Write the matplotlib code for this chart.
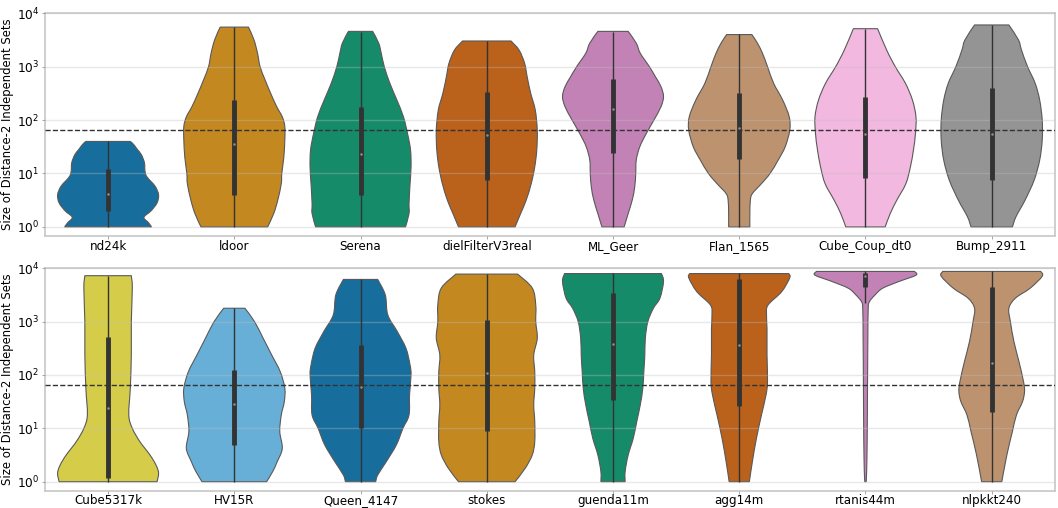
import matplotlib
matplotlib.use("Agg")
import matplotlib.pyplot as plt
from matplotlib.path import Path
from matplotlib.patches import PathPatch
from matplotlib.ticker import LogLocator, NullLocator, LogFormatterSciNotation
import numpy as np
import seaborn as sns

# matrices, two rows of eight
names_top = ["nd24k", "ldoor", "Serena", "dielFilterV3real",
             "ML_Geer", "Flan_1565", "Cube_Coup_dt0", "Bump_2911"]
names_bot = ["Cube5317k", "HV15R", "Queen_4147", "stokes",
             "guenda11m", "agg14m", "rtanis44m", "nlpkkt240"]

# violin outlines: log10(size) and relative half width
logs_top = [
    [0, .08, .18, .3, .45, .6, .75, .85, .95, 1.05, 1.2, 1.35, 1.45, 1.55, 1.6],
    [0, .25, .5, .81, 1.0, 1.3, 1.63, 1.88, 2.06, 2.25, 2.5, 2.75, 3.0, 3.25, 3.5, 3.74],
    [0, .25, .44, .8, 1.125, 1.44, 1.75, 2.06, 2.375, 2.69, 3.0, 3.25, 3.44, 3.66],
    [0, .25, .5, .81, 1.125, 1.44, 1.81, 2.19, 2.5, 2.81, 3.06, 3.31, 3.48],
    [0, .25, .5, .75, 1.0, 1.25, 1.5, 1.75, 2.0, 2.25, 2.44, 2.625, 2.81, 3.0, 3.25, 3.44, 3.66],
    [0, .25, .5, .625, .81, 1.0, 1.25, 1.5, 1.81, 2.06, 2.375, 2.69, 3.0, 3.25, 3.44, 3.6],
    [0, .25, .5, .81, 1.125, 1.44, 1.75, 2.06, 2.375, 2.69, 3.0, 3.31, 3.71],
    [0, .19, .5, .875, 1.25, 1.625, 2.0, 2.375, 2.69, 3.0, 3.31, 3.5, 3.78],
]
wid_top = [
    [.86, .80, .71, .85, .97, 1.0, .94, .85, .76, .73, .72, .66, .58, .50, .44],
    [.66, .78, .86, .93, .94, .98, 1.0, 1.0, .95, .84, .72, .61, .51, .46, .39, .28],
    [.89, .96, .96, .98, 1.0, .99, .93, .85, .72, .58, .47, .41, .36, .24],
    [.56, .67, .78, .88, .95, .99, 1.0, .96, .87, .80, .75, .64, .48],
    [.22, .30, .38, .43, .45, .46, .53, .66, .81, .95, 1.0, .95, .84, .72, .54, .46, .30],
    [.21, .21, .22, .26, .44, .61, .77, .91, 1.0, .99, .86, .68, .56, .46, .36, .25],
    [.39, .49, .62, .80, .89, .95, .99, 1.0, .93, .79, .59, .42, .24],
    [.41, .48, .66, .84, .95, 1.0, 1.0, .95, .86, .71, .59, .53, .34],
]
logs_bot = [
    [0, .16, .31, .5, .75, 1.0, 1.25, 1.75, 2.375, 3.0, 3.63, 3.86],
    [0, .19, .375, .625, .94, 1.25, 1.5, 1.75, 2.06, 2.375, 2.69, 3.0, 3.25],
    [0, .125, .375, .69, 1.0, 1.25, 1.625, 2.0, 2.19, 2.5, 2.81, 3.125, 3.5, 3.79],
    [0, .25, .5, .75, 1.125, 1.44, 1.75, 2.06, 2.375, 2.69, 3.0, 3.31, 3.63, 3.89],
    [0, .19, .5, .81, 1.125, 1.44, 1.75, 2.06, 2.375, 2.69, 3.0, 3.25, 3.44, 3.75, 3.9],
    [0, .375, .81, 1.25, 1.625, 1.875, 2.375, 2.875, 3.125, 3.31, 3.56, 3.82, 3.9],
    [0, .19, .81, 1.75, 2.69, 3.25, 3.375, 3.5, 3.625, 3.75, 3.87, 3.94],
    [0, .5, .94, 1.25, 1.5, 1.69, 1.875, 2.25, 2.625, 3.0, 3.25, 3.44, 3.625, 3.85, 3.94],
]
wid_bot = [
    [.97, 1.0, .95, .83, .63, .48, .41, .44, .46, .46, .48, .46],
    [.64, .76, .85, .95, .90, .93, .99, 1.0, .91, .74, .57, .40, .21],
    [.30, .34, .51, .71, .84, .96, .97, 1.0, .98, .90, .73, .54, .49, .34],
    [.56, .76, .90, .95, .95, .93, .95, .95, .93, 1.0, .97, .97, .90, .61],
    [.24, .24, .30, .40, .47, .54, .59, .61, .63, .64, .69, .80, .93, 1.0, .96],
    [.20, .26, .34, .44, .53, .56, .55, .55, .54, .57, .84, 1.0, .98],
    [.013, .023, .034, .04, .047, .054, .08, .19, .34, .66, 1.0, .97],
    [.20, .30, .41, .49, .61, .65, .63, .54, .44, .37, .34, .47, .76, 1.0, .97],
]

# inner box: whisker low/high, q1, median, q3
whisk_top = [(1, 40), (1, 5500), (1, 4500), (1, 3000), (1, 4500), (1, 4000), (1, 5100), (1, 6000)]
box_top = [(1.95, 4.1, 12), (3.9, 35, 237), (3.9, 23, 172), (7.5, 52, 340),
           (24, 158, 590), (18.3, 70, 325), (8.1, 56, 275), (7.7, 55, 390)]
whisk_bot = [(1, 7300), (1, 1780), (1, 6200), (1, 7800), (1, 8000), (1, 8000), (2200, 8700), (1, 8700)]
box_bot = [(1.19, 23.7, 520), (4.9, 29, 126), (10, 60, 365), (9, 110, 1050),
           (34, 375, 3400), (26.6, 365, 6300), (4500, 7200, 8000), (20, 170, 4400)]

threshold = 64

pal = sns.color_palette("colorblind")
cols_top = [sns.desaturate(pal[i], .75) for i in range(8)]
cols_bot = [sns.desaturate(pal[i % 10], .75) for i in range(8, 16)]

fig = plt.figure(figsize=(10.58, 5.08), dpi=100)
ax1 = fig.add_axes([0.0425, 0.535, 0.9545, 0.439])
ax2 = fig.add_axes([0.0425, 0.0335, 0.9545, 0.4385])


def smooth_side(pts):
    # catmull-rom through the points, written as cubic bezier pieces
    verts = []
    n = len(pts)
    for k in range(n - 1):
        p0 = pts[max(k - 1, 0)]
        p1 = pts[k]
        p2 = pts[k + 1]
        p3 = pts[min(k + 2, n - 1)]
        verts += [p1 + (p2 - p0) / 6, p2 - (p3 - p1) / 6, p2]
    return verts


def violin(ax, pos, logy, w, color):
    L = np.array(logy, float)
    W = 0.4 * np.array(w, float)
    right = [np.array([pos + a, b]) for a, b in zip(W, L)]
    left = [np.array([pos - a, b]) for a, b in zip(W[::-1], L[::-1])]
    verts = [left[-1], right[0]]
    codes = [Path.MOVETO, Path.LINETO]
    seg = smooth_side(right)
    verts += seg
    codes += [Path.CURVE4] * len(seg)
    verts.append(left[0])
    codes.append(Path.LINETO)
    seg = smooth_side(left)
    verts += seg
    codes += [Path.CURVE4] * len(seg)
    verts.append(left[-1])
    codes.append(Path.CLOSEPOLY)
    v = np.array(verts)
    v[:, 1] = 10 ** v[:, 1]
    ax.add_patch(PathPatch(Path(v, codes), facecolor=color, edgecolor="0.35",
                           linewidth=0.8, zorder=2))


def draw_row(ax, names, logs, wids, cols, whisk, boxes):
    for i in range(len(names)):
        violin(ax, i, logs[i], wids[i], cols[i])
        ax.plot([i, i], whisk[i], color="0.2", lw=1, zorder=3, solid_capstyle="butt")
        q1, med, q3 = boxes[i]
        ax.plot([i, i], [q1, q3], color="0.2", lw=3.5, zorder=3, solid_capstyle="butt")
        ax.plot(i, med, "o", ms=1.8, color="white", alpha=0.45, mec="none", zorder=4)
    ax.axhline(threshold, ls="--", color="0.2", lw=1, zorder=5)
    ax.set_yscale("log")
    ax.set_ylim(0.67, 1e4)
    ax.set_xlim(-0.5, len(names) - 0.5)
    ax.yaxis.set_major_locator(LogLocator(base=10, numticks=10))
    ax.yaxis.set_major_formatter(LogFormatterSciNotation())
    ax.yaxis.set_minor_locator(NullLocator())
    ax.set_xticks(range(len(names)))
    ax.set_xticklabels(names, fontsize=8.6)
    ax.tick_params(axis="y", labelsize=8.7, length=2, width=0.6, color="0.6", pad=2)
    ax.tick_params(axis="x", length=2, width=0.6, color="0.6", pad=0.5)
    ax.grid(axis="y", color="0.75", alpha=0.35, lw=1, zorder=6)
    ax.set_axisbelow(False)
    for s in ax.spines.values():
        s.set_color("0.78")
        s.set_linewidth(1.2)
    ax.set_ylabel("Size of Distance-2 Independent Sets", fontsize=8.4, labelpad=2)


draw_row(ax1, names_top, logs_top, wid_top, cols_top, whisk_top, box_top)
draw_row(ax2, names_bot, logs_bot, wid_bot, cols_bot, whisk_bot, box_bot)

fig.savefig("out.png", dpi=100)
